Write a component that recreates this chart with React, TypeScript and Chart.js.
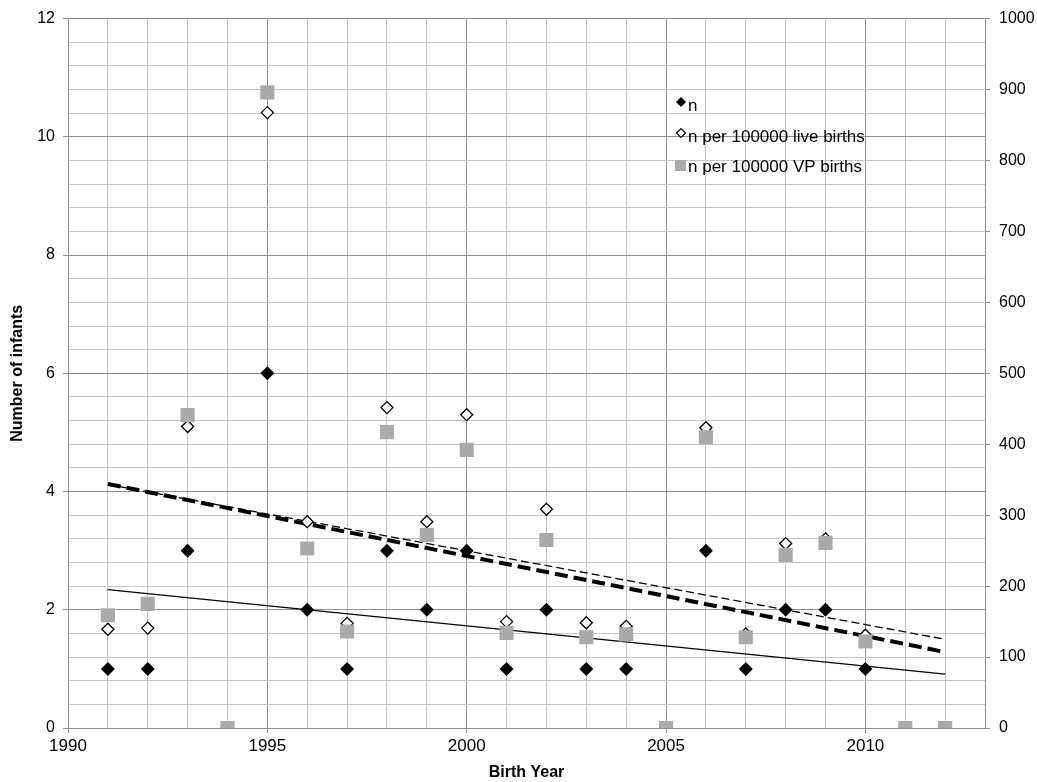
import React, { useEffect, useRef } from 'react';
import { Chart, registerables } from 'chart.js';

Chart.register(...registerables);

// ---------- data ----------
const years = [1991, 1992, 1993, 1994, 1995, 1996, 1997, 1998, 1999, 2000, 2001, 2002, 2003, 2004, 2005, 2006, 2007, 2008, 2009, 2010, 2011, 2012];
const nValues = [1, 1, 3, 0, 6, 2, 1, 3, 2, 3, 1, 2, 1, 1, 0, 3, 1, 2, 2, 1, 0, 0];
const liveBirthRates = [1.67, 1.69, 5.10, 0, 10.41, 3.49, 1.77, 5.42, 3.49, 5.30, 1.80, 3.70, 1.78, 1.72, 0, 5.08, 1.59, 3.12, 3.20, 1.57, 0, 0];
const vpBirthRates = [159, 175, 441, 0, 896, 253, 136, 417, 272, 392, 134, 265, 128, 132, 0, 410, 128, 244, 261, 122, 0, 0];

const trendYears = [1991, 2012];
const nTrend = [2.34, 0.91];
const liveTrend = [4.12, 1.50];
const vpTrend = [344, 107];

const xTickLabels = [1990, 1995, 2000, 2005, 2010];
const leftTickLabels = [0, 2, 4, 6, 8, 10, 12];
const rightTickLabels = [0, 100, 200, 300, 400, 500, 600, 700, 800, 900, 1000];
const legendLabels = ['n', 'n per 100000 live births', 'n per 100000 VP births'];
const xTitle = 'Birth Year';
const yTitle = 'Number of infants';

// ---------- styles ----------
const FONT = '"Liberation Sans", Arial, Helvetica, sans-serif';
const MAJOR = '#8f8f8f';
const MINOR = '#c4c4c4';
const GREY = '#aaaaaa';

const toPts = (xs: number[], ys: number[]) => xs.map((x, i) => ({ x, y: ys[i] }));
const near = (v: number, list: number[]) => list.some((t) => Math.abs(t - v) < 1e-6);

const legendPlugin = {
  id: 'customLegend',
  afterDatasetsDraw(chart: any) {
    const ctx = chart.ctx;
    ctx.save();
    ctx.font = `17px ${FONT}`;
    ctx.textBaseline = 'middle';
    ctx.textAlign = 'left';
    const mx = 681;
    const tx = 688;
    // filled diamond
    ctx.fillStyle = '#000';
    ctx.beginPath();
    ctx.moveTo(mx - 5, 102); ctx.lineTo(mx, 97); ctx.lineTo(mx + 5, 102); ctx.lineTo(mx, 107);
    ctx.closePath(); ctx.fill();
    // open diamond
    ctx.strokeStyle = '#000';
    ctx.lineWidth = 1.2;
    ctx.fillStyle = '#fff';
    ctx.beginPath();
    ctx.moveTo(mx - 4.5, 133); ctx.lineTo(mx, 128.5); ctx.lineTo(mx + 4.5, 133); ctx.lineTo(mx, 137.5);
    ctx.closePath(); ctx.fill(); ctx.stroke();
    // grey square
    ctx.fillStyle = GREY;
    ctx.fillRect(mx - 6, 160, 11, 11);
    ctx.fillStyle = '#000';
    ctx.fillText(legendLabels[0], tx, 106);
    ctx.fillText(legendLabels[1], tx, 137);
    ctx.fillText(legendLabels[2], tx, 167);
    ctx.restore();
  },
};

export default function App() {
  const ref = useRef<HTMLCanvasElement | null>(null);

  useEffect(() => {
    if (!ref.current) return;
    const chart = new Chart(ref.current, {
      type: 'scatter',
      data: {
        datasets: [
          {
            label: legendLabels[2],
            data: toPts(years, vpBirthRates),
            yAxisID: 'y1',
            order: 0,
            pointStyle: 'rect',
            pointRadius: 10,
            backgroundColor: GREY,
            borderColor: GREY,
            borderWidth: 0,
          },
          {
            label: legendLabels[1],
            data: toPts(years, liveBirthRates),
            yAxisID: 'y',
            order: 1,
            pointStyle: 'rectRot',
            pointRadius: 6,
            backgroundColor: '#ffffff',
            borderColor: '#000000',
            borderWidth: 1.3,
          },
          {
            label: legendLabels[0],
            data: toPts(years, nValues),
            yAxisID: 'y',
            order: 2,
            pointStyle: 'rectRot',
            pointRadius: 7,
            backgroundColor: '#000000',
            borderColor: '#000000',
            borderWidth: 0,
          },
          {
            label: 'n trend',
            data: toPts(trendYears, nTrend),
            yAxisID: 'y',
            order: 3,
            showLine: true,
            pointRadius: 0,
            borderColor: '#000000',
            borderWidth: 1.3,
          },
          {
            label: 'live births trend',
            data: toPts(trendYears, liveTrend),
            yAxisID: 'y',
            order: 4,
            showLine: true,
            pointRadius: 0,
            borderColor: '#000000',
            borderWidth: 1.3,
            borderDash: [8, 4],
          },
          {
            label: 'VP births trend',
            data: toPts(trendYears, vpTrend),
            yAxisID: 'y1',
            order: 5,
            showLine: true,
            pointRadius: 0,
            borderColor: '#000000',
            borderWidth: 4,
            borderDash: [13, 6],
          },
        ],
      },
      options: {
        responsive: false,
        animation: false,
        events: [],
        layout: { padding: { top: 18, left: 0, right: 0, bottom: 0 } },
        plugins: {
          legend: { display: false },
          tooltip: { enabled: false },
        },
        scales: {
          x: {
            type: 'linear',
            position: 'bottom',
            min: 1990,
            max: 2013,
            ticks: {
              stepSize: 1,
              autoSkip: false,
              maxRotation: 0,
              padding: 3,
              color: '#000',
              font: { family: FONT, size: 17 },
              callback: (v: any) => (near(Number(v), xTickLabels) ? String(v) : ''),
            },
            grid: {
              color: (c: any) => (c.tick && near(c.tick.value % 5, [0]) ? MAJOR : MINOR),
              tickColor: (c: any) => (c.tick && near(c.tick.value % 5, [0]) ? MAJOR : 'rgba(0,0,0,0)'),
              tickLength: 5,
              lineWidth: 1,
            },
            border: { color: MAJOR },
            title: {
              display: true,
              text: xTitle,
              color: '#000',
              font: { family: FONT, size: 16, weight: 'bold' },
              padding: { top: 0, bottom: 0 },
            },
            afterFit: (s: any) => { s.height = 54; },
          },
          y: {
            type: 'linear',
            position: 'left',
            min: 0,
            max: 12,
            ticks: {
              stepSize: 0.4,
              autoSkip: false,
              padding: 8,
              color: '#000',
              font: { family: FONT, size: 16 },
              callback: (v: any) => (near(Number(v), leftTickLabels) ? String(v) : ''),
            },
            grid: {
              color: (c: any) => (c.tick && near(c.tick.value, leftTickLabels) ? MAJOR : MINOR),
              tickColor: (c: any) => (c.tick && near(c.tick.value, leftTickLabels) ? MAJOR : 'rgba(0,0,0,0)'),
              tickLength: 5,
              lineWidth: 1,
            },
            border: { color: MAJOR },
            title: {
              display: true,
              text: yTitle,
              color: '#000',
              font: { family: FONT, size: 16, weight: 'bold' },
              padding: { top: 8, bottom: 0 },
            },
            afterFit: (s: any) => { s.width = 68; },
          },
          y1: {
            type: 'linear',
            position: 'right',
            min: 0,
            max: 1000,
            ticks: {
              stepSize: 100,
              autoSkip: false,
              padding: 9,
              color: '#000',
              font: { family: FONT, size: 16 },
              callback: (v: any) => (near(Number(v), rightTickLabels) ? String(v) : ''),
            },
            grid: {
              drawOnChartArea: false,
              tickColor: MAJOR,
              tickLength: 5,
            },
            border: { color: MAJOR },
            afterFit: (s: any) => { s.width = 52; },
          },
        },
      } as any,
      plugins: [legendPlugin],
    });
    return () => chart.destroy();
  }, []);

  return (
    <div style={{ position: 'absolute', left: 0, top: 0, width: 1037, height: 782, background: '#fff' }}>
      <canvas ref={ref} width={1037} height={782} style={{ display: 'block' }} />
    </div>
  );
}
